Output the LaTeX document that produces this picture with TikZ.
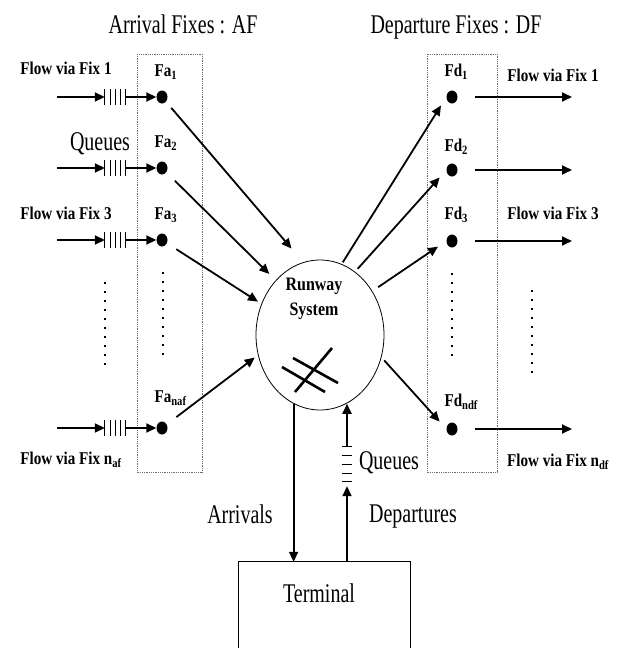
\documentclass[tikz,border=0pt]{standalone}
\usepackage{fontspec}
\setmainfont{Liberation Serif}
\newfontfamily\narrowrm{Liberation Serif}[FakeStretch=0.74]
\newfontfamily\narrowbf{Liberation Serif}[FakeStretch=0.84]
\usetikzlibrary{arrows.meta, positioning, shapes.geometric}
\definecolor{MG}{RGB}{110,110,110}

\begin{document}
\begin{tikzpicture}[x=1pt, y=-1pt,
  flow/.style={-{Triangle[length=10pt,width=9pt]}, line width=1.8pt},
  fixdot/.style={ellipse, fill=black, minimum width=11pt, minimum height=13pt,
                 inner sep=0pt},
  fixlbl/.style={font=\fontsize{18}{20}\narrowbf\bfseries, anchor=west},
  flowlbl/.style={font=\fontsize{18}{20}\narrowbf\bfseries},
  txt/.style={font=\fontsize{27}{30}\narrowrm},
  fixbox/.style={draw=MG, densely dotted, line width=0.8pt},
  qbox/.style={minimum width=21pt, minimum height=16pt, inner sep=0pt},
  vdots/.style={line width=2pt, dash pattern=on 2pt off 7pt},
  rwline/.style={line width=2.6pt}
]
\useasboundingbox (0,0) rectangle (625,648);

% Titles
\node[txt] (aftitle) at (183,24) {Arrival Fixes : AF};
\node[txt] (dftitle) at (456,27) {Departure Fixes : DF};

% Fix boxes
\draw[fixbox] (137,54) rectangle (202,472);
\draw[fixbox] (427,54) rectangle (497,472);

% Arrival fixes with their queues
\foreach \i/\y/\s/\ly in {1/97/1/72,2/168/2/143,3/240/3/215,n/428/naf/398}{
  \node[fixdot] (fa\i) at (162,\y) {};
  \node[fixlbl] (lfa\i) at (151,\ly) {Fa\textsubscript{\s}};
  \node[qbox] (q\i) at (115.5,\y) {};
  \coordinate (in\i) at (57,\y);
  \foreach \k in {0,...,4}
    \draw[line width=0.9pt] ([xshift=\k*5.25]q\i.south west) -- ([xshift=\k*5.25]q\i.north west);
  \draw[flow] (in\i) -- (q\i.west);
  \draw[flow] (q\i.east) -- (fa\i);
}

% Departure fixes
\foreach \i/\y/\s/\ly in {1/97/1/72,2/170/2/147,3/241/3/215,n/429/ndf/402}{
  \node[fixdot] (fd\i) at (452,\y) {};
  \node[fixlbl] (lfd\i) at (441,\ly) {Fd\textsubscript{\s}};
  \coordinate (out\i) at (572,\y);
  \draw[flow, shorten <=17pt] (fd\i) -- (out\i);
}

% Flow labels
\node[flowlbl] (flowa1) at (66,68) {Flow via Fix 1};
\node[flowlbl] (flowa3) at (66,213) {Flow via Fix 3};
\node[flowlbl] (flowan) at (71,460) {Flow via Fix n\textsubscript{af}};
\node[flowlbl] (flowd1) at (553,75) {Flow via Fix 1};
\node[flowlbl] (flowd3) at (553,213) {Flow via Fix 3};
\node[flowlbl] (flowdn) at (558,462) {Flow via Fix n\textsubscript{df}};
\node[txt] (qalbl) at (100,144) {Queues};

% Vertical dots
\draw[vdots] (105,282) -- (105,365);
\draw[vdots] (163,272) -- (163,357);
\draw[vdots] (452,273) -- (452,356);
\draw[vdots] (532,290) -- (532,373);

% Runway system
\node[ellipse, draw, line width=0.8pt, minimum width=128pt, minimum height=150pt,
      inner sep=0pt] (runway) at (320,335) {};
\node[font=\fontsize{19}{25}\narrowbf\bfseries, align=center] (rwlbl) at (314,299)
  {Runway\\System};
\draw[rwline] (282,367) -- (325,392);
\draw[rwline] (293,358) -- (338,383);
\draw[rwline] (295,392) -- (332,348);

% Fixes to and from runway
\draw[flow, shorten <=8pt, shorten >=18pt] (fa1) -- (runway.103);
\draw[flow, shorten <=12pt, shorten >=9pt] (fa2) -- (runway.129);
\draw[flow, shorten <=11pt, shorten >=4pt] (fa3) -- (runway.152);
\draw[flow, shorten <=12pt, shorten >=4pt] (fan) -- (runway.198);
\draw[flow, shorten <=2pt, shorten >=10pt] (runway.73) -- (fd1.west);
\draw[flow, shorten <=4pt, shorten >=10pt] (runway.61) -- (fd2.west);
\draw[flow, shorten <=7pt, shorten >=10pt] (runway.40) -- (fd3.west);
\draw[flow, shorten <=4pt, shorten >=10pt] (runway.340) -- (fdn.west);

% Terminal
\node[minimum width=171pt, minimum height=86pt, inner sep=0pt] (terminal) at (324.5,605) {};
\draw[line width=1.2pt] (terminal.south west) -- (terminal.north west)
  -- (terminal.north east) -- (terminal.south east);
\node[txt] (termlbl) at (319,593) {Terminal};

% Arrivals and departures
\draw[flow] (runway.249) -- (runway.249 |- terminal.north);
\node[minimum width=10pt, minimum height=35pt, inner sep=0pt] (qd) at (347,464.5) {};
\foreach \k in {0,...,4}
  \draw[line width=0.9pt] ([yshift=-\k*8.75]qd.north west) -- ([yshift=-\k*8.75]qd.north east);
\draw[flow, shorten >=4pt] (qd.south |- terminal.north) -- (qd.south);
\draw[flow] (qd.north) -- (qd.north |- runway.291);
\node[txt] (qdlbl) at (389,463) {Queues};
\node[txt] (arrlbl) at (240,514) {Arrivals};
\node[txt] (deplbl) at (413,517) {Departures};
\end{tikzpicture}
\end{document}
